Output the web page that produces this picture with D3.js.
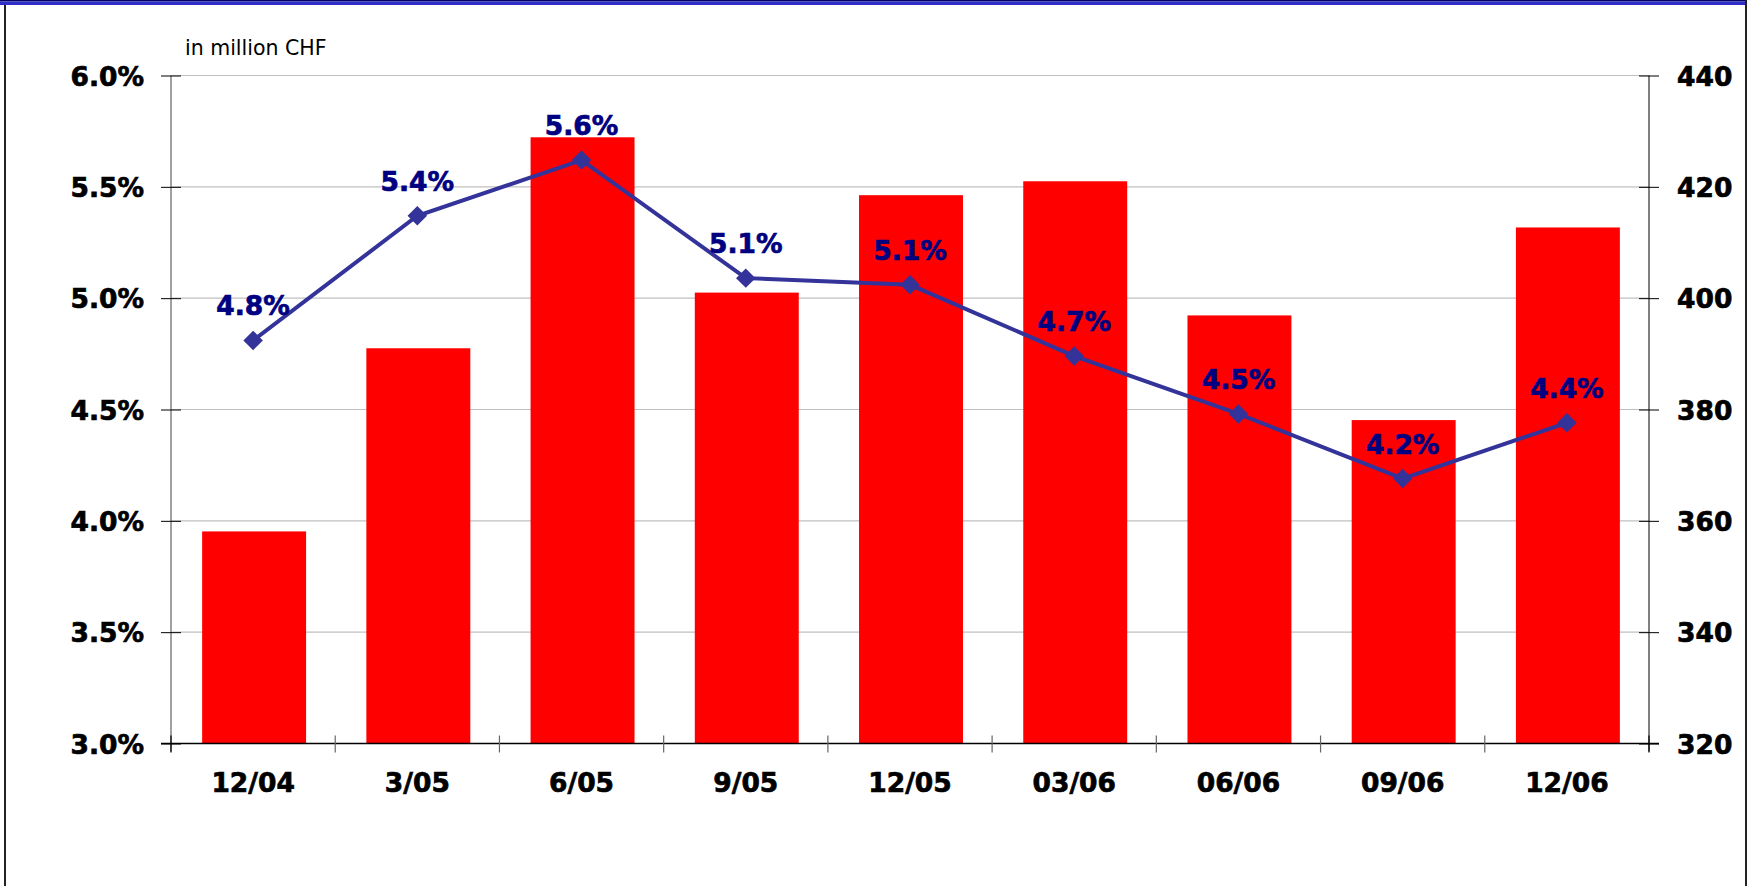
<!DOCTYPE html>
<html lang="en">
<head>
<meta charset="UTF-8">
<title>Volume and rate</title>
<script src="https://d3js.org/d3.v7.min.js"></script>
<style>
  body { margin: 0; background: #fff; }
  svg text { font-family: "DejaVu Sans", Verdana, sans-serif; }
  .heavy { font-weight: bold; stroke-width: 0.7px; }
</style>
</head>
<body>
<svg id="chart" width="1751" height="886"></svg>
<script>
    // values
    const categories = ["12/04", "3/05", "6/05", "9/05", "12/05", "03/06", "06/06", "09/06", "12/06"];
    const volumes = [358.1, 391.0, 428.9, 401.0, 418.5, 421.0, 396.9, 378.1, 412.7]; // right axis, million CHF
    const rates = [4.81, 5.37, 5.62, 5.09, 5.06, 4.74, 4.48, 4.19, 4.44];            // left axis, %
    const rateTicks = [3.0, 3.5, 4.0, 4.5, 5.0, 5.5, 6.0];
    const volumeTicks = [320, 340, 360, 380, 400, 420, 440];

    const svg = d3.select("#chart");
    const plotLeft = 171, plotRight = 1649, plotTop = 75.5, plotBottom = 743.5;

    // frame
    svg.append("rect").attr("x", 0).attr("y", 0).attr("width", 1747).attr("height", 1.5).attr("fill", "#000066");
    svg.append("rect").attr("x", 0).attr("y", 1.5).attr("width", 1747).attr("height", 3.5).attr("fill", "#2f2fc8");
    svg.append("line").attr("x1", 5).attr("x2", 5).attr("y1", 5).attr("y2", 886)
        .attr("stroke", "#222").attr("stroke-width", 2);
    svg.append("line").attr("x1", 1746).attr("x2", 1746).attr("y1", 0).attr("y2", 886)
        .attr("stroke", "#222").attr("stroke-width", 2);

    const x = d3.scaleBand()
        .domain(categories)
        .range([plotLeft, plotRight])
        .paddingInner(0.367)
        .paddingOuter(0.367 / 2);

    const yRate = d3.scaleLinear().domain([3, 6]).range([plotBottom, plotTop]);
    const yVol = d3.scaleLinear().domain([320, 440]).range([plotBottom, plotTop]);

    // gridlines
    svg.append("g")
        .selectAll("line")
        .data(rateTicks.slice(1))
        .enter().append("line")
        .attr("x1", plotLeft).attr("x2", plotRight)
        .attr("y1", d => yRate(d)).attr("y2", d => yRate(d))
        .attr("stroke", "#c0c0c0").attr("stroke-width", 1.2);

    // bars
    svg.append("g")
        .selectAll("rect")
        .data(volumes)
        .enter().append("rect")
        .attr("x", (d, i) => x(categories[i]) + 1)
        .attr("y", d => yVol(d))
        .attr("width", x.bandwidth())
        .attr("height", d => yVol(320) - yVol(d))
        .attr("fill", "#ff0000");

    // left axis
    const leftAxis = svg.append("g")
        .attr("transform", `translate(${plotLeft},0)`)
        .call(d3.axisLeft(yRate).tickValues(rateTicks).tickFormat(d => d.toFixed(1) + "%").tickSize(10));
    leftAxis.select(".domain").attr("stroke", "#808080").attr("stroke-width", 1.5)
        .attr("d", `M0,${plotTop}V${plotBottom + 8}`);
    leftAxis.selectAll(".tick line").attr("x1", -10).attr("x2", 10).attr("stroke", "#000");
    leftAxis.selectAll(".tick text")
        .attr("class", "heavy")
        .attr("x", -27)
        .attr("dy", "0.36em")
        .style("font-size", "26.5px").attr("fill", "#000").attr("stroke", "#000");

    // right axis
    const rightAxis = svg.append("g")
        .attr("transform", `translate(${plotRight},0)`)
        .call(d3.axisRight(yVol).tickValues(volumeTicks).tickSize(10));
    rightAxis.select(".domain").attr("stroke", "#000").attr("d", `M0,${plotTop}V${plotBottom + 8}`);
    rightAxis.selectAll(".tick line").attr("x1", -10).attr("x2", 10).attr("stroke", "#000");
    rightAxis.selectAll(".tick text")
        .attr("class", "heavy")
        .attr("x", 28)
        .attr("dy", "0.36em")
        .style("font-size", "26.5px").attr("fill", "#000").attr("stroke", "#000");

    // bottom axis
    const bottomAxis = svg.append("g")
        .attr("transform", `translate(0,${plotBottom})`)
        .call(d3.axisBottom(x).tickSize(0));
    bottomAxis.select(".domain").attr("stroke", "#000").attr("stroke-width", 1.5)
        .attr("d", `M${plotLeft - 10},0H${plotRight + 10}`);
    bottomAxis.selectAll(".tick text")
        .attr("class", "heavy")
        .attr("y", 0).attr("dy", "48px")
        .style("font-size", "26.5px").attr("fill", "#000").attr("stroke", "#000");
    // category separators
    const step = x.step();
    bottomAxis.append("g")
        .selectAll("line")
        .data(d3.range(categories.length + 1))
        .enter().append("line")
        .attr("x1", i => plotLeft + i * step).attr("x2", i => plotLeft + i * step)
        .attr("y1", -8).attr("y2", 9)
        .attr("stroke", i => (i === 0 || i === categories.length) ? "#000" : "#666")
        .attr("stroke-width", 1.2);

    // rate line
    const line = d3.line()
        .x((d, i) => x(categories[i]) + x.bandwidth() / 2)
        .y(d => yRate(d));
    svg.append("path")
        .datum(rates)
        .attr("d", line)
        .attr("fill", "none")
        .attr("stroke", "#333399")
        .attr("stroke-width", 4);

    svg.append("g")
        .selectAll("path")
        .data(rates)
        .enter().append("path")
        .attr("d", d3.symbol().type(d3.symbolSquare).size(190))
        .attr("transform", (d, i) => `translate(${x(categories[i]) + x.bandwidth() / 2},${yRate(d)}) rotate(45)`)
        .attr("fill", "#333399");

    svg.append("g")
        .selectAll("text")
        .data(rates)
        .enter().append("text")
        .attr("class", "heavy")
        .attr("x", (d, i) => x(categories[i]) + x.bandwidth() / 2)
        .attr("y", d => yRate(d) - 25)
        .attr("text-anchor", "middle")
        .style("font-size", "26.5px")
        .attr("fill", "#000080").attr("stroke", "#000080")
        .text(d => d3.format(".1f")(d) + "%");

    svg.append("text")
        .attr("x", 185).attr("y", 55)
        .style("font-size", "20.5px")
        .attr("fill", "#000")
        .text("in million CHF");
</script>
</body>
</html>
